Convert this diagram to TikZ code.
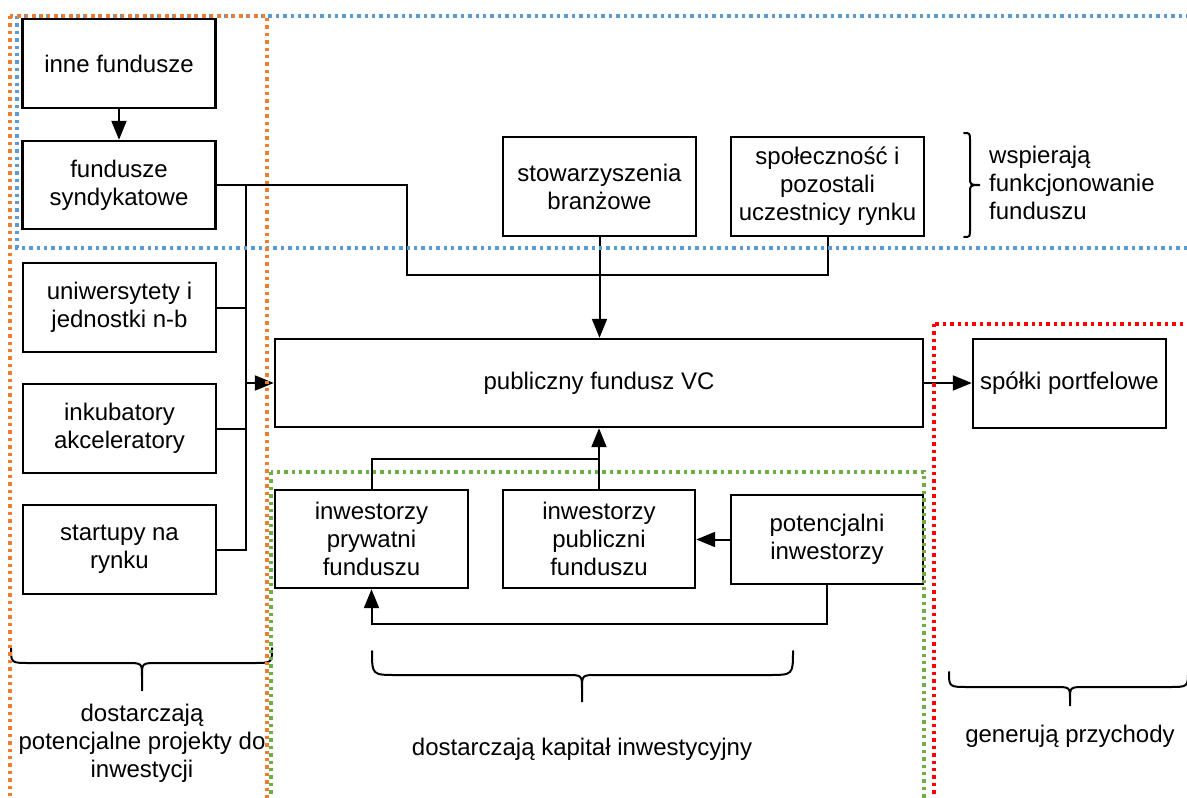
\documentclass[tikz,border=0pt]{standalone}
\usepackage{fontspec}
\setmainfont{Liberation Sans}
\usetikzlibrary{arrows.meta}
\definecolor{zoneorange}{HTML}{ED7D31}
\definecolor{zoneblue}{HTML}{5B9BD5}
\definecolor{zonegreen}{HTML}{70AD47}
\definecolor{zonered}{HTML}{FF0000}

\begin{document}
\begin{tikzpicture}[x=1pt,y=-1pt,
  every node/.style={font=\fontsize{24}{28}\selectfont},
  box/.style={draw, line width=2.4pt, align=center, inner sep=0pt,
              minimum width=193pt, minimum height=89pt},
  link/.style={line width=2pt},
  arr/.style={link, -{Triangle[length=19pt,width=15pt]}},
  zone/.style={line width=3.3pt, dash pattern=on 3.4pt off 4pt},
  brace/.style={line width=2pt, line cap=round},
  note/.style={align=center, anchor=base, inner sep=0pt}
]
\useasboundingbox (0,0) rectangle (1187,798);
\clip (0,0) rectangle (1187,798);

% left column: sources of projects
\node[box] (inne)  at (119,63.5)  {inne fundusze};
\node[box, minimum height=88pt] (synd) at (119,185) {fundusze\\syndykatowe};
\node[box] (uni)   at (119.5,307.5) {uniwersytety i\\jednostki n-b};
\node[box] (inku)  at (119.5,428.5) {inkubatory\\akceleratory};
\node[box] (start) at (119.5,549.5) {startupy na\\rynku};

% supporting actors
\node[box, minimum height=99pt] (stow) at (599.5,186.5) {stowarzyszenia\\branżowe};
\node[box, minimum height=99pt] (spol) at (827.5,186.5) {społeczność i\\pozostali\\uczestnicy rynku};

% the fund and its portfolio
\node[box, minimum width=648pt, minimum height=88pt] (fund) at (599,383) {publiczny fundusz VC};
\node[box] (spolki) at (1069.5,383.5) {spółki portfelowe};

% investors
\node[box, minimum height=98pt] (pryw) at (371.5,539) {inwestorzy\\prywatni\\funduszu};
\node[box, minimum width=192pt, minimum height=98pt] (publ) at (599,539) {inwestorzy\\publiczni\\funduszu};
\node[box, minimum width=192pt] (pot) at (827,539.5) {potencjalni\\inwestorzy};

% helper points of the connector routing
\coordinate (bustop) at (246,185);
\coordinate (join) at (407,275);
\coordinate (merge) at (599,459);

% connectors
\draw[arr] (inne) -- (synd);
\draw[link] (synd.east) -| (join) -| (spol.south);
\draw[arr] (stow.south) -- (stow.south |- fund.north);
\draw[link] (start.east) -| (bustop);
\draw[link] (uni.east) -- (uni.east -| bustop);
\draw[link] (inku.east) -- (inku.east -| bustop);
\draw[arr] (fund.west -| bustop) -- (fund.west);
\draw[arr] (fund.east) -- (fund.east -| spolki.west);
\draw[link] (pryw.north) |- (merge);
\draw[arr] (publ.north) -- (publ.north |- fund.south);
\draw[arr] (pot.west) -- (pot.west -| publ.east);
\draw[arr] (pot.south) -- ++(0,39) -| (pryw.south);

% braces
\draw[brace] (964,133) .. controls (970,133) .. (970,141) -- (970,177)
  .. controls (970,185) .. (980,185) .. controls (970,185) .. (970,193)
  -- (970,229) .. controls (970,237) .. (964,237);
\draw[brace] (11,648) .. controls (11,663) .. (30,663) -- (126,663)
  .. controls (142,663) .. (142,676) -- (142,691) -- (142,676)
  .. controls (142,663) .. (158,663) -- (253,663) .. controls (272,663) .. (272,648);
\draw[brace] (372,651) .. controls (372,675) .. (397,675) -- (566,675)
  .. controls (582,675) .. (582,689) -- (582,702) -- (582,689)
  .. controls (582,675) .. (598,675) -- (768,675) .. controls (793,675) .. (793,651);
\draw[brace] (949,672) .. controls (949,687) .. (969,687) -- (1054,687)
  .. controls (1070,687) .. (1070,699) -- (1070,706) -- (1070,699)
  .. controls (1070,687) .. (1086,687) -- (1168,687) .. controls (1188,687) .. (1188,672);

% group descriptions (base anchor sits on the last line)
\node[note, anchor=base west, align=left] (txtsup) at (989,219) {wspierają\\funkcjonowanie\\funduszu};
\node[note] (txtproj) at (142,777) {dostarczają\\potencjalne projekty do\\inwestycji};
\node[note] (txtcap) at (582,755) {dostarczają kapitał inwestycyjny};
\node[note] (txtrev) at (1070,742) {generują przychody};

% dotted group frames
\draw[zone, zoneblue] (17,16) rectangle (1200,248);
\draw[zone, zoneorange] (10,16) rectangle (267,830);
\draw[zone, zonegreen] (271,472) rectangle (924,830);
\draw[zone, zonered] (934,324) rectangle (1200,830);
\end{tikzpicture}
\end{document}
